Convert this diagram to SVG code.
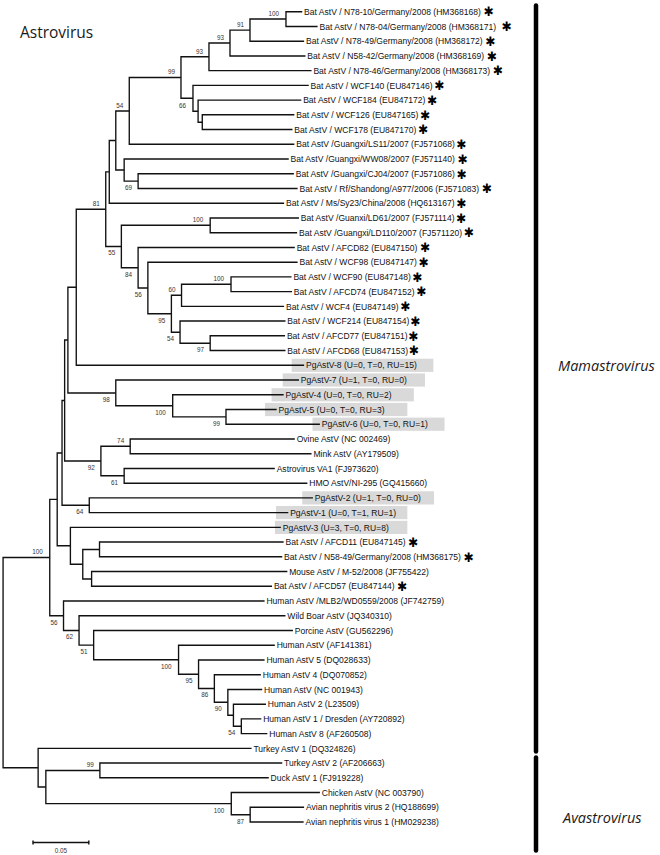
<svg xmlns="http://www.w3.org/2000/svg" width="660" height="855" viewBox="0 0 660 855">
<style>
.br{fill:none;stroke:#111;stroke-width:1.45;stroke-linejoin:miter;vector-effect:non-scaling-stroke}
.lf{font-family:"Liberation Sans",Arial,sans-serif;font-size:9.2px;fill:#111}
.bs{font-family:"Liberation Sans",Arial,sans-serif;font-size:6.8px;fill:#333;text-anchor:end}
.ast{font-family:"DejaVu Sans",sans-serif;font-weight:bold;font-size:13px;fill:#000}
.pg{fill:#d9d9d9}
.bar{stroke:#000;stroke-width:4.5;stroke-linecap:round}
.clade{font-family:"Open Sans",sans-serif;font-style:italic;font-size:14.5px;fill:#1a1a1a}
.title{font-family:"Open Sans",sans-serif;font-size:15.5px;fill:#1a1a1a}
</style>
<rect width="660" height="855" fill="#fff"/>
<text class="title" x="20" y="37.5">Astrovirus</text>

<g id="tree" transform="scale(0.93 1)">
<g id="pg-boxes">
<rect class="pg" x="313.6" y="358.7" width="152.4" height="13.2"/>
<rect class="pg" x="304" y="373.4" width="153" height="13.2"/>
<rect class="pg" x="292" y="388.2" width="153" height="13.2"/>
<rect class="pg" x="285" y="402.9" width="153" height="13.2"/>
<rect class="pg" x="336" y="417.6" width="142" height="13.2"/>
<rect class="pg" x="325" y="491.3" width="141.7" height="13.2"/>
<rect class="pg" x="296.8" y="506" width="141.2" height="13.2"/>
<rect class="pg" x="295.7" y="520.8" width="142.3" height="13.2"/>
</g>

<g id="connectors" class="br">
<path id="e-A" d="M325 11.7H307.5V26.43H341.5"/>
<path id="e-B" d="M307.5 19.07H268.8V41.17H327"/>
<path id="e-C" d="M268.8 30.12H247.3V55.9H328.5"/>
<path id="e-D" d="M247.3 43.01H224.7V70.63H335"/>
<path id="e-E" d="M316.5 114.83H217.5V129.56H314.5"/>
<path id="e-F" d="M324 100.1H213V122.2H217.5"/>
<path id="e-G" d="M332 85.37H207.5V111.15H213"/>
<path id="e-H" d="M224.7 56.82H194.6V98.26H207.5"/>
<path id="e-I" d="M194.6 77.54H139V144.3H316.5"/>
<path id="e-J" d="M316 173.76H148.5V188.5H320"/>
<path id="e-K" d="M310.5 159.03H133.5V181.13H148.5"/>
<path id="e-M" d="M139 110.92H124.5V170.08H133.5"/>
<path id="e-N" d="M124.5 140.5H117.5V203.23H305.5"/>
<path id="e-Q" d="M321.5 217.96H226V232.7H319.5"/>
<path id="e-V" d="M313.5 276.89H248.4V291.63H314"/>
<path id="e-U" d="M248.4 284.26H195.2V306.36H305.5"/>
<path id="e-X" d="M306.5 335.83H226V350.56H307"/>
<path id="e-W" d="M307 321.09H193.6V343.2H226"/>
<path id="e-T" d="M195.2 295.31H184.3V332.15H193.6"/>
<path id="e-S" d="M320 262.16H159V313.73H184.3"/>
<path id="e-R" d="M317 247.43H148.5V287.95H159"/>
<path id="e-P" d="M226 225.33H130.5V267.69H148.5"/>
<path id="e-O" d="M117.5 171.87H113.7V246.51H130.5"/>
<path id="e-Y" d="M113.7 209.19H82V365.29H327"/>
<path id="e-P99" d="M297.5 409.49H243V424.23H344"/>
<path id="e-P100" d="M305 394.76H185.7V416.86H243"/>
<path id="e-P98" d="M321.5 380.03H124.5V405.81H185.7"/>
<path id="e-Z" d="M82 287.24H73V392.92H124.5"/>
<path id="e-N74" d="M317 438.96H140V453.69H335"/>
<path id="e-N61" d="M295.5 468.42H133.5V483.16H330.5"/>
<path id="e-N92" d="M140 446.33H108.5V475.79H133.5"/>
<path id="e-AA" d="M73 340.08H69.5V461.06H108.5"/>
<path id="e-N64" d="M336.5 497.89H96V512.62H310"/>
<path id="e-AB" d="M69.5 400.57H66.7V505.26H96"/>
<path id="e-AF" d="M305 542.09H107V556.82H303.5"/>
<path id="e-AG" d="M309 571.56H98.5V586.29H292.5"/>
<path id="e-AE" d="M107 549.46H89V578.93H98.5"/>
<path id="e-AD" d="M302 527.36H75.7V564.2H89"/>
<path id="e-AC" d="M66.7 452.92H61.5V545.78H75.7"/>
<path id="e-AP" d="M281 718.89H259.5V733.62H287.5"/>
<path id="e-AO" d="M286 704.15H251V726.26H259.5"/>
<path id="e-AN" d="M282 689.42H245V715.2H251"/>
<path id="e-AM" d="M280.5 674.69H230.5V702.31H245"/>
<path id="e-AL" d="M284.5 659.95H213.5V688.5H230.5"/>
<path id="e-AK" d="M295.5 645.22H192V674.23H213.5"/>
<path id="e-AJ" d="M315 630.49H100.7V659.73H192"/>
<path id="e-AI" d="M307 615.76H85V645.11H100.7"/>
<path id="e-AH" d="M284.5 601.02H68.3V630.43H85"/>
<path id="e-M100" d="M61.5 499.35H53.5V615.73H68.3"/>
<path id="e-AS" d="M303.5 763.09H107.4V777.82H289"/>
<path id="e-AU" d="M327 807.28H269V822.02H326.5"/>
<path id="e-AT" d="M344 792.55H248.7V814.65H269"/>
<path id="e-AR" d="M107.4 770.46H49.3V803.6H248.7"/>
<path id="e-AQ" d="M270.5 748.35H41V787.03H49.3"/>
<path id="e-root" d="M53.5 557.54H3.3V767.69H41"/>
</g>

<g id="bootstrap">
<g id="n-A"><text class="bs" x="300" y="16">100</text></g>
<g id="n-B"><text class="bs" x="262.3" y="27">91</text></g>
<g id="n-C"><text class="bs" x="240.8" y="39.9">93</text></g>
<g id="n-D"><text class="bs" x="218.2" y="53.7">93</text></g>
<g id="n-H"><text class="bs" x="188.1" y="74.4">99</text></g>
<g id="n-I"><text class="bs" x="132.5" y="107.8">54</text></g>
<g id="n-F"><text class="bs" x="200" y="108">66</text></g>
<g id="n-J"><text class="bs" x="142" y="190.1">69</text></g>
<g id="n-O"><text class="bs" x="107.2" y="206.1">81</text></g>
<g id="n-Q"><text class="bs" x="218.5" y="222.2">100</text></g>
<g id="n-P"><text class="bs" x="124" y="255.5">55</text></g>
<g id="n-R"><text class="bs" x="142" y="276.7">84</text></g>
<g id="n-S"><text class="bs" x="152.5" y="297">56</text></g>
<g id="n-U"><text class="bs" x="188.7" y="292.2">60</text></g>
<g id="n-V"><text class="bs" x="240.9" y="281.2">100</text></g>
<g id="n-T"><text class="bs" x="177.8" y="322.7">95</text></g>
<g id="n-W"><text class="bs" x="187.1" y="341.2">54</text></g>
<g id="n-X"><text class="bs" x="219.5" y="352.2">97</text></g>
<g id="n-P98"><text class="bs" x="118" y="401.9">98</text></g>
<g id="n-P100"><text class="bs" x="178.2" y="414.8">100</text></g>
<g id="n-P99"><text class="bs" x="236.5" y="425.9">99</text></g>
<g id="n-N74"><text class="bs" x="133.5" y="443.2">74</text></g>
<g id="n-N92"><text class="bs" x="102" y="470.1">92</text></g>
<g id="n-N61"><text class="bs" x="127" y="484.8">61</text></g>
<g id="n-N64"><text class="bs" x="89.5" y="514.3">64</text></g>
<g id="n-M100"><text class="bs" x="46" y="554.4">100</text></g>
<g id="n-AH"><text class="bs" x="61.8" y="624.7">56</text></g>
<g id="n-AI"><text class="bs" x="78.5" y="639.4">62</text></g>
<g id="n-AJ"><text class="bs" x="94.2" y="654.1">51</text></g>
<g id="n-AK"><text class="bs" x="184.5" y="668.7">100</text></g>
<g id="n-AL"><text class="bs" x="207" y="683.2">95</text></g>
<g id="n-AM"><text class="bs" x="224" y="697.5">86</text></g>
<g id="n-AN"><text class="bs" x="238.5" y="711.3">90</text></g>
<g id="n-AP"><text class="bs" x="253" y="735.3">54</text></g>
<g id="n-AS"><text class="bs" x="100.9" y="767.4">99</text></g>
<g id="n-AT"><text class="bs" x="241.2" y="812.6">100</text></g>
<g id="n-AU"><text class="bs" x="262.5" y="823.7">87</text></g>
</g>

<g id="leaves" class="lf">
<g id="leaf-01"><text x="327" y="14.9">Bat AstV / N78-10/Germany/2008 (HM368168)<tspan class="ast" dx="3" dy="1.6">✱</tspan></text></g>
<g id="leaf-02"><text x="343.5" y="29.63">Bat AstV / N78-04/Germany/2008 (HM368171)<tspan class="ast" dx="6" dy="1.6">✱</tspan></text></g>
<g id="leaf-03"><text x="329" y="44.37">Bat AstV / N78-49/Germany/2008 (HM368172)<tspan class="ast" dx="3" dy="1.6">✱</tspan></text></g>
<g id="leaf-04"><text x="330.5" y="59.1">Bat AstV / N58-42/Germany/2008 (HM368169)<tspan class="ast" dx="3" dy="1.6">✱</tspan></text></g>
<g id="leaf-05"><text x="337" y="73.83">Bat AstV / N78-46/Germany/2008 (HM368173)<tspan class="ast" dx="3" dy="1.6">✱</tspan></text></g>
<g id="leaf-06"><text x="334" y="88.57">Bat AstV / WCF140 (EU847146)<tspan class="ast" dx="2" dy="1.6">✱</tspan></text></g>
<g id="leaf-07"><text x="326" y="103.3">Bat AstV / WCF184 (EU847172)<tspan class="ast" dx="2" dy="1.6">✱</tspan></text></g>
<g id="leaf-08"><text x="318.5" y="118.03">Bat AstV / WCF126 (EU847165)<tspan class="ast" dx="2" dy="1.6">✱</tspan></text></g>
<g id="leaf-09"><text x="316.5" y="132.76">Bat AstV / WCF178 (EU847170)<tspan class="ast" dx="2" dy="1.6">✱</tspan></text></g>
<g id="leaf-10"><text x="318.5" y="147.5">Bat AstV /Guangxi/LS11/2007 (FJ571068)<tspan class="ast" dx="2" dy="1.6">✱</tspan></text></g>
<g id="leaf-11"><text x="312.5" y="162.23">Bat AstV /Guangxi/WW08/2007 (FJ571140)<tspan class="ast" dx="3" dy="1.6">✱</tspan></text></g>
<g id="leaf-12"><text x="318" y="176.96">Bat AstV /Guangxi/CJ04/2007 (FJ571086)<tspan class="ast" dx="2" dy="1.6">✱</tspan></text></g>
<g id="leaf-13"><text x="322" y="191.7">Bat AstV / Rf/Shandong/A977/2006 (FJ571083)<tspan class="ast" dx="3" dy="1.6">✱</tspan></text></g>
<g id="leaf-14"><text x="307.5" y="206.43">Bat AstV / Ms/Sy23/China/2008 (HQ613167)<tspan class="ast" dx="2" dy="1.6">✱</tspan></text></g>
<g id="leaf-15"><text x="323.5" y="221.16">Bat AstV /Guanxi/LD61/2007 (FJ571114)<tspan class="ast" dx="2" dy="1.6">✱</tspan></text></g>
<g id="leaf-16"><text x="321.5" y="235.9">Bat AstV /Guangxi/LD110/2007 (FJ571120)<tspan class="ast" dx="2" dy="1.6">✱</tspan></text></g>
<g id="leaf-17"><text x="319" y="250.63">Bat AstV / AFCD82 (EU847150)<tspan class="ast" dx="3" dy="1.6">✱</tspan></text></g>
<g id="leaf-18"><text x="322" y="265.36">Bat AstV / WCF98 (EU847147)<tspan class="ast" dx="2" dy="1.6">✱</tspan></text></g>
<g id="leaf-19"><text x="315.5" y="280.09">Bat AstV / WCF90 (EU847148)<tspan class="ast" dx="2" dy="1.6">✱</tspan></text></g>
<g id="leaf-20"><text x="316" y="294.83">Bat AstV / AFCD74 (EU847152)<tspan class="ast" dx="2" dy="1.6">✱</tspan></text></g>
<g id="leaf-21"><text x="307.5" y="309.56">Bat AstV / WCF4 (EU847149)<tspan class="ast" dx="2" dy="1.6">✱</tspan></text></g>
<g id="leaf-22"><text x="309" y="324.29">Bat AstV / WCF214 (EU847154)<tspan class="ast" dx="1" dy="1.6">✱</tspan></text></g>
<g id="leaf-23"><text x="308.5" y="339.03">Bat AstV / AFCD77 (EU847151)<tspan class="ast" dx="1" dy="1.6">✱</tspan></text></g>
<g id="leaf-24"><text x="309" y="353.76">Bat AstV / AFCD68 (EU847153)<tspan class="ast" dx="1" dy="1.6">✱</tspan></text></g>
<g id="leaf-25"><text x="329" y="368.49">PgAstV-8 (U=0, T=0, RU=15)</text></g>
<g id="leaf-26"><text x="323.5" y="383.23">PgAstV-7 (U=1, T=0, RU=0)</text></g>
<g id="leaf-27"><text x="307" y="397.96">PgAstV-4 (U=0, T=0, RU=2)</text></g>
<g id="leaf-28"><text x="299.5" y="412.69">PgAstV-5 (U=0, T=0, RU=3)</text></g>
<g id="leaf-29"><text x="346" y="427.43">PgAstV-6 (U=0, T=0, RU=1)</text></g>
<g id="leaf-30"><text x="319" y="442.16">Ovine AstV (NC 002469)</text></g>
<g id="leaf-31"><text x="337" y="456.89">Mink AstV (AY179509)</text></g>
<g id="leaf-32"><text x="297.5" y="471.62">Astrovirus VA1 (FJ973620)</text></g>
<g id="leaf-33"><text x="332.5" y="486.36">HMO AstV/NI-295 (GQ415660)</text></g>
<g id="leaf-34"><text x="338.5" y="501.09">PgAstV-2 (U=1, T=0, RU=0)</text></g>
<g id="leaf-35"><text x="312" y="515.82">PgAstV-1 (U=0, T=1, RU=1)</text></g>
<g id="leaf-36"><text x="304" y="530.56">PgAstV-3 (U=3, T=0, RU=8)</text></g>
<g id="leaf-37"><text x="307" y="545.29">Bat AstV / AFCD11 (EU847145)<tspan class="ast" dx="3" dy="1.6">✱</tspan></text></g>
<g id="leaf-38"><text x="305.5" y="560.02">Bat AstV / N58-49/Germany/2008 (HM368175)<tspan class="ast" dx="3" dy="1.6">✱</tspan></text></g>
<g id="leaf-39"><text x="311" y="574.76">Mouse AstV / M-52/2008 (JF755422)</text></g>
<g id="leaf-40"><text x="294.5" y="589.49">Bat AstV / AFCD57 (EU847144)<tspan class="ast" dx="3" dy="1.6">✱</tspan></text></g>
<g id="leaf-41"><text x="286.5" y="604.22">Human AstV /MLB2/WD0559/2008 (JF742759)</text></g>
<g id="leaf-42"><text x="309" y="618.96">Wild Boar AstV (JQ340310)</text></g>
<g id="leaf-43"><text x="317" y="633.69">Porcine AstV (GU562296)</text></g>
<g id="leaf-44"><text x="297.5" y="648.42">Human AstV (AF141381)</text></g>
<g id="leaf-45"><text x="286.5" y="663.15">Human AstV 5 (DQ028633)</text></g>
<g id="leaf-46"><text x="282.5" y="677.89">Human AstV 4 (DQ070852)</text></g>
<g id="leaf-47"><text x="284" y="692.62">Human AstV (NC 001943)</text></g>
<g id="leaf-48"><text x="288" y="707.35">Human AstV 2 (L23509)</text></g>
<g id="leaf-49"><text x="283" y="722.09">Human AstV 1 / Dresden (AY720892)</text></g>
<g id="leaf-50"><text x="289.5" y="736.82">Human AstV 8 (AF260508)</text></g>
<g id="leaf-51"><text x="272.5" y="751.55">Turkey AstV 1 (DQ324826)</text></g>
<g id="leaf-52"><text x="305.5" y="766.29">Turkey AstV 2 (AF206663)</text></g>
<g id="leaf-53"><text x="291" y="781.02">Duck AstV 1 (FJ919228)</text></g>
<g id="leaf-54"><text x="346" y="795.75">Chicken AstV (NC 003790)</text></g>
<g id="leaf-55"><text x="329" y="810.48">Avian nephritis virus 2 (HQ188699)</text></g>
<g id="leaf-56"><text x="328.5" y="825.22">Avian nephritis virus 1 (HM029238)</text></g>
</g>

<g id="scale-bar">
<path class="br" d="M35.5 842.5H95.5M35.5 840.5V844.5M95.5 840.5V844.5" stroke-width="1"/>
<text class="bs" x="65.5" y="853.5" style="text-anchor:middle">0.05</text>
</g>
</g>

<g id="clade-mamastrovirus">
<line class="bar" x1="536" y1="5.5" x2="536" y2="751.5"/>
<text class="clade" x="558" y="371">Mamastrovirus</text>
</g>
<g id="clade-avastrovirus">
<line class="bar" x1="536" y1="757.5" x2="536" y2="850.5"/>
<text class="clade" x="563" y="823">Avastrovirus</text>
</g>
</svg>
